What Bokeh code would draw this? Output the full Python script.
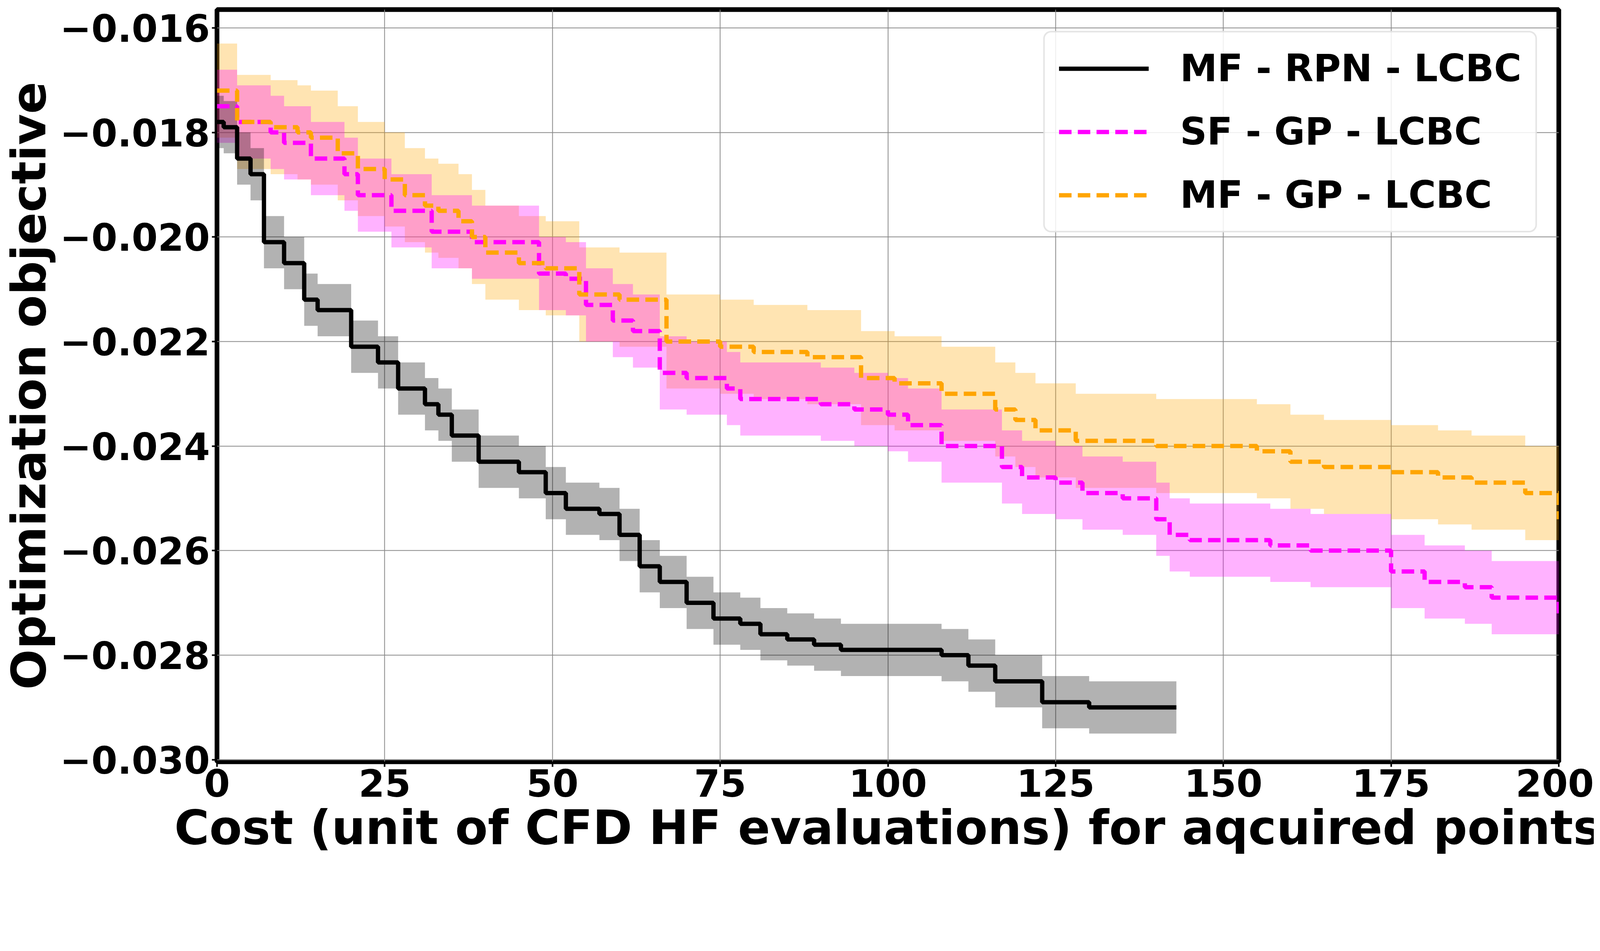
from bokeh.plotting import figure
from bokeh.models import Range1d, CustomJSTickFormatter, Legend, LegendItem, FixedTicker
from bokeh.embed import file_html
from bokeh.resources import INLINE

rpn_x = [0,1,3,5,7,10,13,15,20,24,27,31,33,35,39,45,49,52,57,60,63,66,70,74,78,81,85,89,93,97,108,112,116,120,123,130,143]
rpn_y = [-0.0178,-0.0179,-0.0185,-0.0188,-0.0201,-0.0205,-0.0212,-0.0214,-0.0221,-0.0224,-0.0229,-0.0232,-0.0234,-0.0238,-0.0243,-0.0245,-0.0249,-0.0252,-0.0253,-0.0257,-0.0263,-0.0266,-0.0270,-0.0273,-0.0274,-0.0276,-0.0277,-0.0278,-0.0279,-0.0279,-0.0280,-0.0282,-0.0285,-0.0285,-0.0289,-0.0290,-0.0290]
rpn_band = 0.0005

sf_x = [0,3,8,10,14,19,21,26,32,38,48,52,55,59,62,66,70,76,78,90,95,100,103,108,113,117,120,125,129,135,140,142,145,157,163,173,175,180,186,190,200]
sf_y = [-0.0175,-0.0178,-0.0180,-0.0182,-0.0185,-0.0188,-0.0192,-0.0195,-0.0199,-0.0201,-0.0207,-0.0208,-0.0213,-0.0216,-0.0218,-0.0226,-0.0227,-0.0229,-0.0231,-0.0232,-0.0233,-0.0234,-0.0236,-0.0240,-0.0240,-0.0244,-0.0246,-0.0247,-0.0249,-0.0250,-0.0254,-0.0257,-0.0258,-0.0259,-0.0260,-0.0260,-0.0264,-0.0266,-0.0267,-0.0269,-0.0272]
sf_band = 0.0007

mfgp_x = [0,3,8,12,14,18,21,25,28,31,33,36,38,40,45,49,54,60,67,75,80,88,96,101,108,116,119,122,128,140,155,160,165,175,182,187,195,200]
mfgp_y = [-0.0172,-0.0178,-0.0179,-0.0180,-0.0181,-0.0184,-0.0187,-0.0189,-0.0192,-0.0194,-0.0195,-0.0197,-0.0200,-0.0203,-0.0205,-0.0206,-0.0211,-0.0212,-0.0220,-0.0221,-0.0222,-0.0223,-0.0227,-0.0228,-0.0230,-0.0233,-0.0235,-0.0237,-0.0239,-0.0240,-0.0241,-0.0243,-0.0244,-0.0245,-0.0246,-0.0247,-0.0249,-0.0254]
mfgp_band = 0.0009

x_ticks = [0,25,50,75,100,125,150,175,200]
y_ticks = [-0.030,-0.028,-0.026,-0.024,-0.022,-0.020,-0.018,-0.016]

FONT = "DejaVu Sans"
p = figure(width=4080, height=2225, output_backend="svg", toolbar_location=None,
           x_range=Range1d(0, 200), y_range=Range1d(-0.03004, -0.01565),
           min_border_left=545, min_border_right=90, min_border_top=24, min_border_bottom=275)

series = [
    (mfgp_x, mfgp_y, mfgp_band, "orange", 0.3),
    (sf_x, sf_y, sf_band, "#ff00ff", 0.3),
    (rpn_x, rpn_y, rpn_band, "black", 0.3),
]
for xs, ys, b, c, a in series:
    p.varea_step(x=xs, y1=[v - b for v in ys], y2=[v + b for v in ys], step_mode="after",
                 fill_color=c, fill_alpha=a)

r1 = p.step(rpn_x, rpn_y, mode="after", line_color="black", line_width=11)
r2 = p.step(sf_x, sf_y, mode="after", line_color="#ff00ff", line_width=11, line_dash="32 16")
r3 = p.step(mfgp_x, mfgp_y, mode="after", line_color="orange", line_width=11, line_dash="32 16")

p.outline_line_color = "black"
p.outline_line_width = 12
p.xgrid.grid_line_color = "#888888"
p.ygrid.grid_line_color = "#888888"
p.xgrid.grid_line_width = 2
p.ygrid.grid_line_width = 2
p.xaxis.ticker = FixedTicker(ticks=x_ticks)
p.yaxis.ticker = FixedTicker(ticks=y_ticks)
p.yaxis.formatter = CustomJSTickFormatter(code="return (tick<0?'\u2212':'') + Math.abs(tick).toFixed(3);")
for ax in (p.xaxis[0], p.yaxis[0]):
    ax.major_label_text_font = FONT
    ax.major_label_text_font_style = "bold"
    ax.major_label_text_font_size = "96px"
    ax.major_label_text_color = "black"
    ax.axis_label_text_font = FONT
    ax.axis_label_text_font_style = "bold"
    ax.axis_label_text_font_size = "122px"
    ax.axis_label_text_color = "black"
    ax.axis_line_color = None
    ax.major_tick_line_width = 4
    ax.major_tick_out = 13
    ax.major_tick_in = 0
    ax.minor_tick_line_color = None
p.xaxis.axis_label = "Cost (unit of CFD HF evaluations) for aqcuired points"
p.yaxis.axis_label = "Optimization objective"

legend = Legend(items=[LegendItem(label="MF - RPN - LCBC", renderers=[r1]),
                       LegendItem(label="SF - GP - LCBC", renderers=[r2]),
                       LegendItem(label="MF - GP - LCBC", renderers=[r3])],
                location="top_right")
legend.label_text_font = FONT
legend.label_text_font_style = "bold"
legend.label_text_font_size = "96px"
legend.label_text_color = "black"
legend.glyph_width = 230
legend.glyph_height = 95
legend.label_standoff = 80
legend.spacing = 50
legend.padding = 36
legend.margin = 55
legend.border_line_color = "#cccccc"
legend.border_line_width = 4
legend.border_radius = 20
legend.background_fill_alpha = 0.85
p.add_layout(legend)

open("out.html", "w").write(file_html(p, INLINE))
